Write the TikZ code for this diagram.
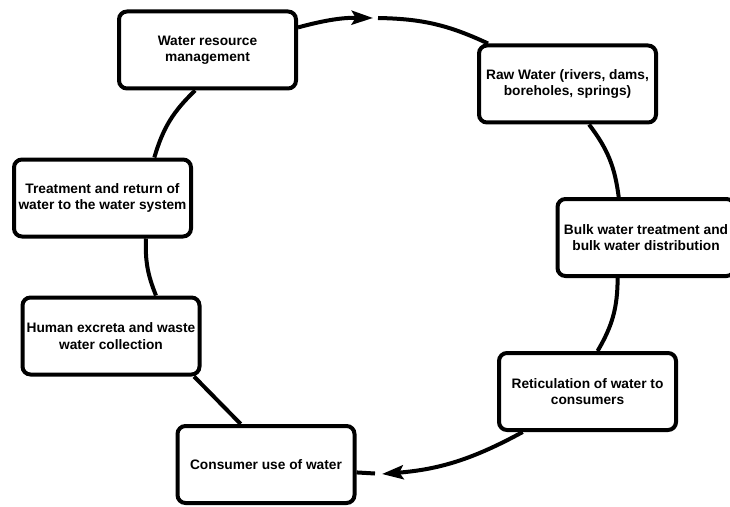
\documentclass[tikz,border=0pt]{standalone}
\usepackage{fontspec}
\setmainfont{Liberation Sans}
\usetikzlibrary{shapes,arrows.meta,positioning,calc}

\begin{document}
\begin{tikzpicture}[
    x=0.75pt, y=0.75pt,
    stage/.style={rectangle, draw, line width=3pt, rounded corners=6pt, minimum width=132.75pt, minimum height=57.75pt, inner sep=1pt, align=center, font=\fontsize{10.3}{12.4}\selectfont\bfseries},
    link/.style={line width=3pt},
    arrow/.style={link, -{Stealth[length=16pt, width=10.5pt, inset=3pt]}}
]
\useasboundingbox (0,0) rectangle (730,-506);

\node[stage] (wrm) at (207.5,-50) {Water resource\\management};
\node[stage] (raw) at (567.5,-84) {Raw Water (rivers, dams,\\boreholes, springs)};
\node[stage] (bulk) at (646,-237.5) {Bulk water treatment and\\bulk water distribution};
\node[stage] (ret) at (587.5,-391.5) {Reticulation of water to\\consumers};
\node[stage] (cons) at (266,-464.5) {Consumer use of water};
\node[stage] (hum) at (111,-336) {Human excreta and waste\\water collection};
\node[stage] (treat) at (102.5,-198) {Treatment and return of\\water to the water system};

\coordinate (tipA) at (373,-18);
\coordinate (startB) at (378,-18);
\coordinate (tipE) at (382,-474);
\coordinate (stubE) at (375,-473.5);

\draw[arrow] (wrm.14) to[bend left=8] (tipA);
\draw[link] (startB) to[bend left=12] (raw.153);
\draw[link] (raw.-62) to[bend left=15] (bulk.124);
\draw[link] (bulk.235) to[bend left=15] (ret.76);
\draw[arrow] (ret.212) to[bend left=12] (tipE);
\draw[link] (cons.-5) -- (stubE);
\draw[link] (cons.122) -- (hum.-26);
\draw[link] (hum.42) to[bend left=12] (treat.-43);
\draw[link] (treat.38) to[bend left=15] (wrm.-107);
\end{tikzpicture}
\end{document}
